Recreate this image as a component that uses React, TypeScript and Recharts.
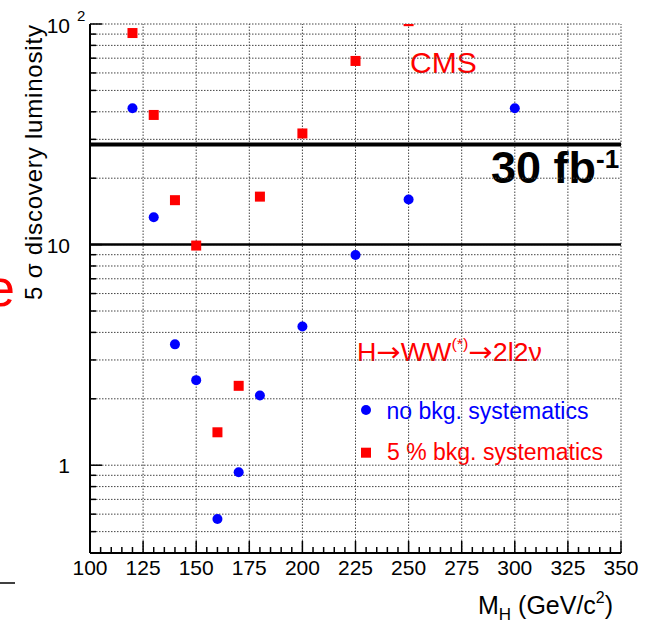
import React from 'react';
import { ScatterChart, Scatter, XAxis, YAxis, ReferenceLine } from 'recharts';

// Higgs mass points (GeV/c^2)
const massNoSyst = [120, 130, 140, 150, 160, 170, 180, 200, 225, 250, 300];
const lumiNoSyst = [41.5, 13.3, 3.53, 2.43, 0.57, 0.93, 2.07, 4.25, 8.97, 16.0, 41.5];
const massSyst = [120, 130, 140, 150, 160, 170, 180, 200, 225, 250];
const lumiSyst = [91, 38.7, 15.9, 9.9, 1.41, 2.29, 16.5, 31.9, 68, 103];

const majorXTicks = [100, 125, 150, 175, 200, 225, 250, 275, 300, 325, 350];
const allXTicks = [
  100, 105, 110, 115, 120, 125, 130, 135, 140, 145, 150, 155, 160, 165, 170, 175,
  180, 185, 190, 195, 200, 205, 210, 215, 220, 225, 230, 235, 240, 245, 250, 255,
  260, 265, 270, 275, 280, 285, 290, 295, 300, 305, 310, 315, 320, 325, 330, 335,
  340, 345, 350,
];
const gridX = [125, 150, 175, 200, 225, 250, 275, 300, 325, 350];
const majorYTicks = [1, 10, 100];
const allYTicks = [
  0.5, 0.6, 0.7, 0.8, 0.9, 1, 2, 3, 4, 5, 6, 7, 8, 9, 10, 20, 30, 40, 50, 60, 70,
  80, 90, 100,
];
const lumi30Line = 28.4;
const lumi10Line = 10;

const noSystData = massNoSyst.map((m, i) => ({ m, l: lumiNoSyst[i] }));
const systData = massSyst.map((m, i) => ({ m, l: lumiSyst[i] }));

const FONT = 'Liberation Sans, Arial, Helvetica, sans-serif';
const ARROW_FONT = 'DejaVu Sans, sans-serif';

const XTick = (props: any) => {
  const { x, y, payload } = props;
  const v = payload.value;
  const major = majorXTicks.includes(v);
  return (
    <g>
      <line x1={x} x2={x} y1={y} y2={y - (major ? 12 : 6)} stroke="#000" strokeWidth={1.5} />
      {major && (
        <text x={x} y={y + 22} textAnchor="middle" fontSize={21} fontFamily={FONT} fill="#000">
          {v}
        </text>
      )}
    </g>
  );
};

const YTick = (props: any) => {
  const { x, y, payload } = props;
  const v = payload.value;
  const major = majorYTicks.includes(v);
  let label: any = null;
  if (v === 100) {
    label = (
      <g>
        <text x={x - 20} y={y + 9} textAnchor="end" fontSize={21} fontFamily={FONT} fill="#000">10</text>
        <text x={x - 13} y={y - 3} textAnchor="start" fontSize={15} fontFamily={FONT} fill="#000">2</text>
      </g>
    );
  } else if (major) {
    label = (
      <text x={x - 20} y={y + 8} textAnchor="end" fontSize={21} fontFamily={FONT} fill="#000">
        {v}
      </text>
    );
  }
  return (
    <g>
      <line x1={x} x2={x + (major ? 12 : 6)} y1={y} y2={y} stroke="#000" strokeWidth={1.5} />
      {label}
    </g>
  );
};

const BlueDot = (props: any) => <circle cx={props.cx} cy={props.cy} r={5} fill="#0000ff" />;
const RedSquare = (props: any) => (
  <rect x={props.cx - 5} y={props.cy - 5} width={10} height={10} fill="#ff0000" />
);

export default function App() {
  return (
    <div style={{ position: 'absolute', left: 0, top: 0, width: 653, height: 622, background: '#fff' }}>
      <ScatterChart width={653} height={622} margin={{ top: 24, right: 32, bottom: 0, left: 0 }}>
        <XAxis
          type="number"
          dataKey="m"
          domain={[100, 350]}
          ticks={allXTicks}
          interval={0}
          tickSize={0}
          tickMargin={0}
          height={69}
          tick={<XTick />}
          tickLine={false}
          axisLine={{ stroke: '#000', strokeWidth: 2 }}
          allowDataOverflow
        />
        <YAxis
          type="number"
          dataKey="l"
          scale="log"
          domain={[0.4, 100]}
          ticks={allYTicks}
          interval={0}
          tickSize={0}
          tickMargin={0}
          width={90}
          tick={<YTick />}
          tickLine={false}
          axisLine={{ stroke: '#000', strokeWidth: 2 }}
          allowDataOverflow
        />
        {gridX.map((v) => (
          <ReferenceLine key={'gx' + v} x={v} stroke="#444" strokeWidth={1} strokeDasharray="1.5 1.5" />
        ))}
        {allYTicks.map((v) => (
          <ReferenceLine key={'gy' + v} y={v} stroke="#444" strokeWidth={1} strokeDasharray="1.5 1.5" />
        ))}
        <ReferenceLine y={lumi10Line} stroke="#000" strokeWidth={2.5} />
        <ReferenceLine y={lumi30Line} stroke="#000" strokeWidth={4} />
        <Scatter data={noSystData} shape={BlueDot} isAnimationActive={false} />
        <Scatter data={systData} shape={RedSquare} isAnimationActive={false} />

        <text x={410} y={73} fontSize={30} fontFamily={FONT} fill="#ff0000">CMS</text>
        <text x={491} y={183} fontSize={45} fontWeight="bold" fontFamily={FONT} fill="#000">
          30 fb
          <tspan fontSize={26} dy={-15}>-1</tspan>
        </text>
        <text x={357} y={361} fontSize={25} fontFamily={FONT} fill="#ff0000" textLength={185} lengthAdjust="spacingAndGlyphs">
          H
          <tspan fontFamily={ARROW_FONT} fontSize={27}>→</tspan>
          WW
          <tspan fontSize={15} dy={-12}>(*)</tspan>
          <tspan dy={12} fontFamily={ARROW_FONT} fontSize={27}>→</tspan>
          <tspan>2l2ν</tspan>
        </text>
        <circle cx={366} cy={410} r={5} fill="#0000ff" />
        <text x={386.5} y={418.7} fontSize={23} fontFamily={FONT} fill="#0000ff">no bkg. systematics</text>
        <rect x={361} y={447.7} width={10} height={10} fill="#ff0000" />
        <text x={387} y={460} fontSize={23} fontFamily={FONT} fill="#ff0000">5 % bkg. systematics</text>

        <text
          transform="translate(41.5,162.5) rotate(-90)"
          textAnchor="middle"
          fontSize={24}
          fontFamily={FONT}
          fill="#000"
          textLength={275}
          lengthAdjust="spacing"
        >
          5 σ discovery luminosity
        </text>
        <text x={478} y={614} fontSize={25} fontFamily={FONT} fill="#000">
          M
          <tspan fontSize={17} dy={6}>H</tspan>
          <tspan dy={-6}> (GeV/c</tspan>
          <tspan fontSize={16} dy={-11}>2</tspan>
          <tspan dy={11}>)</tspan>
        </text>
        <text x={15} y={306} textAnchor="end" fontSize={52} fontFamily={FONT} fill="#ff0000">e</text>
        <line x1={0} x2={15} y1={583} y2={583} stroke="#000" strokeWidth={1.5} />
      </ScatterChart>
    </div>
  );
}
